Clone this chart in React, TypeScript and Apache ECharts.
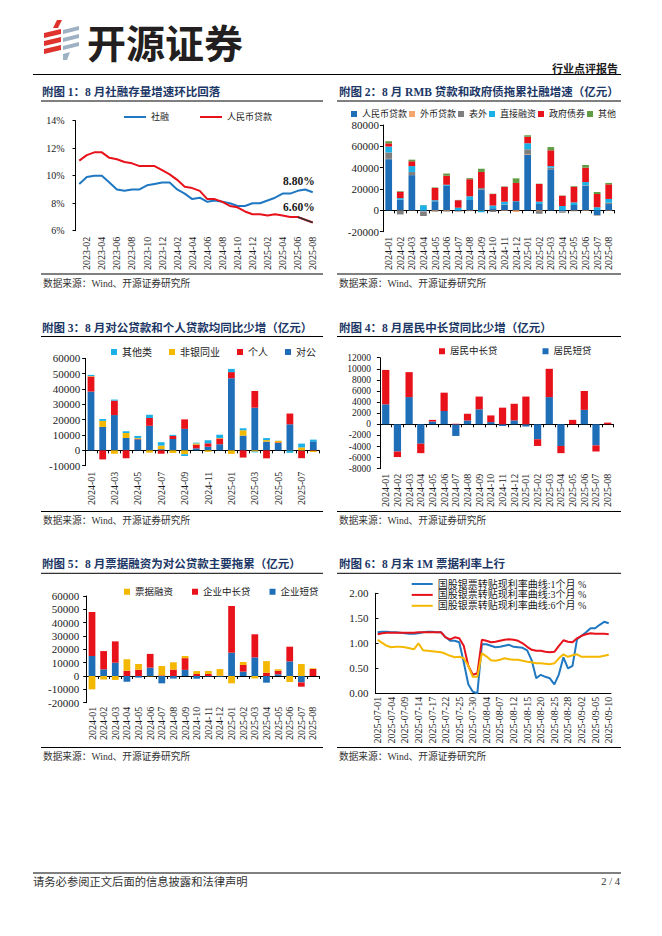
import React, { useEffect, useRef } from 'react';
import * as echarts from 'echarts';

const W = 662;
const H = 936;
const SERIF = "'Liberation Serif', 'Noto Sans CJK SC', serif";
const CJK = "'Noto Sans CJK SC', 'Liberation Serif', sans-serif";
const TXT = '#1a1a1a';
const NAVY = '#1c3766';

const BLUE = '#1f6fb8';
const LBLUE = '#1f78c1';
const RED = '#e8121b';
const CYAN = '#1bb0e6';
const GRAY = '#7f7f7f';
const ORANGE = '#f6a66b';
const GREEN = '#5f9c44';
const YELLOW = '#f5b800';

// ---------- Chart 1 ----------
const c1Months = [
  '2023-01', '2023-02', '2023-03', '2023-04', '2023-05', '2023-06', '2023-07', '2023-08',
  '2023-09', '2023-10', '2023-11', '2023-12', '2024-01', '2024-02', '2024-03', '2024-04',
  '2024-05', '2024-06', '2024-07', '2024-08', '2024-09', '2024-10', '2024-11', '2024-12',
  '2025-01', '2025-02', '2025-03', '2025-04', '2025-05', '2025-06', '2025-07', '2025-08',
];
const c1TSF = [9.4, 9.9, 10.0, 10.0, 9.5, 9.0, 8.9, 9.0, 9.0, 9.3, 9.4, 9.5, 9.5, 9.0, 8.7, 8.3,
  8.4, 8.1, 8.2, 8.1, 8.0, 7.8, 7.8, 8.0, 8.0, 8.2, 8.4, 8.7, 8.7, 8.9, 9.0, 8.8];
const c1Loan = [11.1, 11.5, 11.7, 11.7, 11.3, 11.2, 11.0, 10.9, 10.7, 10.7, 10.7, 10.4, 10.1, 9.7, 9.2, 9.1,
  8.9, 8.3, 8.3, 8.1, 7.8, 7.7, 7.4, 7.2, 7.2, 7.1, 7.2, 7.1, 7.0, 7.0, 6.8, 6.6];
const c1YTicks = [6, 8, 10, 12, 14];

// ---------- Shared months for bar charts ----------
const months20 = [
  '2024-01', '2024-02', '2024-03', '2024-04', '2024-05', '2024-06', '2024-07', '2024-08',
  '2024-09', '2024-10', '2024-11', '2024-12', '2025-01', '2025-02', '2025-03', '2025-04',
  '2025-05', '2025-06', '2025-07', '2025-08',
];

// ---------- Chart 2 ----------
const c2Loans = [48000, 10000, 33000, -1000, 8500, 23000, -800, 9700, 19500, 2000, 5300, 8500, 52000, 6000, 38500, -1000, 5000, 23000, -4300, 5900];
const c2Foreign = [300, -300, -200, -300, -800, -800, -500, -400, -300, -300, -500, -1500, 300, -700, -100, -300, -300, -500, -300, -400];
const c2OffBal = [6000, -3500, 3000, -4000, -500, -500, -300, -300, 1500, -1200, 300, 0, 5000, -2500, 1500, -1000, -500, 500, -500, 1300];
const c2Direct = [5500, 1500, 5500, 4800, 1000, 1000, 2500, 3500, -1500, 2500, 2500, 200, 5500, 2200, 1500, 4000, 2500, 3000, 3000, 3500];
const c2Gov = [3000, 6000, 4500, 0, 11500, 8500, 7000, 16000, 15000, 10800, 14000, 17000, 6200, 16500, 14800, 9700, 14600, 13500, 12400, 13700];
const c2Other = [2000, 500, 1500, 200, 500, 2000, 300, 1000, 3000, 300, 300, 4300, 1500, 300, 3000, 300, 600, 2500, 1800, 1300];

// ---------- Chart 3 ----------
const c3Corp = [38300, 15300, 23000, 8000, 7200, 16000, 800, 7400, 14000, 1300, 2400, 4000, 47000, 9600, 27800, 5700, 4800, 17000, -300, 5900];
const c3Personal = [9800, -5900, 9400, -5200, 300, 5100, -2200, 2000, 6200, 2400, 2200, 3700, 4000, -4700, 10900, -5200, 400, 7000, -4800, -300];
const c3NonBank = [300, 3900, -2200, 3300, 500, -1500, 2300, -1700, -2500, 800, -1000, 300, -2300, 3500, -800, 1000, 1000, -200, 1900, -800];
const c3Other = [800, 1200, 700, 1200, 1400, 2100, 2200, 700, -1200, 500, 2000, 2200, 2100, 1300, -500, 1300, 100, -1400, 2500, 1100];

// ---------- Chart 4 ----------
const c4Short = [3600, -4900, 4900, -3500, 500, 2400, -2100, 700, 2700, 400, -300, 700, -400, -2700, 4900, -3900, 0, 2600, -3800, 0];
const c4Long = [6200, -1000, 4500, -1700, 300, 3300, 100, 1200, 2300, 1200, 3000, 3000, 5000, -1200, 5100, -1300, 800, 3400, -1100, 300];

// ---------- Chart 5 ----------
const c5Short = [15000, 5000, 10000, -4200, -1200, 6300, -5500, -1900, 4600, -2000, -400, -500, 17500, 3300, 14000, -5000, 1300, 11000, -4800, 0];
const c5Long = [33000, 13700, 16000, 4000, 4700, 10300, 500, 4800, 8800, 1500, 1500, 200, 35000, 5000, 17300, 2500, 2600, 11000, -3200, 5300];
const c5Bill = [-10000, -2600, -2900, 8500, 4300, -300, 7000, 5500, 1600, 2200, 2300, 5000, -5500, 2200, -1800, 8700, 1200, -4500, 9000, 500];

// ---------- Chart 6 ----------
const c6Dates = [
  '2025-07-01', '2025-07-02', '2025-07-03', '2025-07-04', '2025-07-07', '2025-07-08', '2025-07-09', '2025-07-10',
  '2025-07-11', '2025-07-14', '2025-07-15', '2025-07-16', '2025-07-17', '2025-07-18', '2025-07-21', '2025-07-22',
  '2025-07-23', '2025-07-24', '2025-07-25', '2025-07-28', '2025-07-29', '2025-07-30', '2025-07-31', '2025-08-01',
  '2025-08-04', '2025-08-05', '2025-08-06', '2025-08-07', '2025-08-08', '2025-08-11', '2025-08-12', '2025-08-13',
  '2025-08-14', '2025-08-15', '2025-08-18', '2025-08-19', '2025-08-20', '2025-08-21', '2025-08-22', '2025-08-25',
  '2025-08-26', '2025-08-27', '2025-08-28', '2025-08-29', '2025-09-01', '2025-09-02', '2025-09-03', '2025-09-04',
  '2025-09-05', '2025-09-08', '2025-09-09', '2025-09-10',
];
const c6M1 = [1.22, 1.23, 1.23, 1.22, 1.22, 1.21, 1.20, 1.19, 1.19, 1.20, 1.22, 1.23, 1.23, 1.22, 1.22, 1.12,
  1.05, 1.05, 1.02, 0.62, 0.18, 0.03, 0.00, 0.98, 0.98, 0.95, 0.92, 0.93, 0.95, 0.97, 0.93, 0.92,
  0.91, 0.86, 0.66, 0.30, 0.37, 0.33, 0.30, 0.18, 0.38, 0.72, 0.50, 0.55, 1.08, 1.15, 1.22, 1.30,
  1.30, 1.37, 1.43, 1.40];
const c6M3 = [1.18, 1.20, 1.21, 1.21, 1.21, 1.21, 1.21, 1.21, 1.21, 1.22, 1.22, 1.22, 1.22, 1.22, 1.22, 1.12,
  1.08, 1.12, 1.10, 0.95, 0.55, 0.37, 0.40, 1.07, 1.05, 1.02, 1.03, 1.05, 1.07, 1.08, 1.07, 1.05,
  1.00, 0.93, 0.87, 0.85, 0.85, 0.83, 0.82, 0.83, 0.95, 1.06, 1.03, 1.02, 1.10, 1.15, 1.18, 1.20,
  1.19, 1.19, 1.19, 1.18];
const c6M6 = [1.07, 1.01, 0.95, 0.92, 0.93, 0.93, 0.92, 0.90, 0.88, 1.00, 0.86, 0.85, 0.84, 0.83, 0.82, 0.79,
  0.75, 0.72, 0.73, 0.70, 0.55, 0.33, 0.33, 0.80, 0.74, 0.66, 0.65, 0.67, 0.70, 0.68, 0.67, 0.67,
  0.65, 0.63, 0.62, 0.60, 0.60, 0.59, 0.58, 0.60, 0.70, 0.78, 0.73, 0.76, 0.78, 0.73, 0.73, 0.73,
  0.73, 0.73, 0.75, 0.77];
const c6Names = ['国股银票转贴现利率曲线:1个月 %', '国股银票转贴现利率曲线:3个月 %', '国股银票转贴现利率曲线:6个月 %'];

// ---------- helpers ----------
const plain = (v: number) => String(v);

function yAxisCfg(min: number, max: number, interval: number, fontSize: number, margin: number, formatter: any = plain, inside = false) {
  return {
    type: 'value', min, max, interval,
    axisLine: { show: true, lineStyle: { color: '#000', width: 1 } },
    axisTick: { show: true, inside, length: 3, lineStyle: { color: '#000', width: 1 } },
    splitLine: { show: false },
    axisLabel: { fontSize, margin, color: TXT, fontFamily: SERIF, formatter },
  };
}

function xAxesBar(data: string[], margin: number, interval: any, fontSize = 10) {
  return [
    {
      type: 'category', data,
      axisLine: { show: false, onZero: false },
      axisTick: { show: false },
      axisLabel: { rotate: 90, interval, fontSize, margin, color: TXT, fontFamily: SERIF },
    },
    {
      type: 'category', data, position: 'bottom',
      axisLine: { show: true, onZero: true, lineStyle: { color: '#000', width: 1 } },
      axisTick: { show: true, length: 3, interval: 0, lineStyle: { color: '#000', width: 1 } },
      axisLabel: { show: false },
    },
  ];
}

function barS(name: string, data: number[], color: string, width = '58%') {
  return { type: 'bar', name, data, stack: 'total', barWidth: width, itemStyle: { color }, xAxisIndex: 0 };
}

function sqLegend(left: number, top: number, gap: number, fontSize: number, names: string[]) {
  return {
    left, top, itemWidth: 6, itemHeight: 6, itemGap: gap, icon: 'rect', selectedMode: false,
    textStyle: { fontSize, color: TXT, fontFamily: SERIF }, data: names,
  };
}

function txt(x: number, y: number, t: string, size: number, extra: any = {}) {
  return {
    type: 'text', x, y,
    style: { text: t, fontSize: size, fontFamily: SERIF, fill: TXT, align: 'left', verticalAlign: 'middle', ...extra },
  };
}
function hline(x1: number, x2: number, y: number, w = 1) {
  return { type: 'line', shape: { x1, y1: y, x2, y2: y }, style: { stroke: '#000', lineWidth: w } };
}

// ---------- page layer ----------
const logoRed = [
  [[57, 20], [62, 20], [58, 28], [53, 28]],
  [[44, 33], [61, 29], [61, 34], [44, 38]],
  [[44, 41], [61, 37], [61, 42], [44, 46]],
  [[44, 49], [61, 45], [61, 50], [44, 54]],
];
const logoGray = [
  [[63, 30], [79, 26], [79, 30], [63, 34]],
  [[63, 38], [79, 34], [79, 38], [63, 42]],
  [[63, 46], [79, 42], [79, 46], [63, 50]],
  [[63, 54], [70, 52], [67, 60], [63, 60]],
];

const pageOption = {
  animation: false,
  graphic: [
    ...logoRed.map((p) => ({ type: 'polygon', shape: { points: p }, style: { fill: '#e0322d' } })),
    ...logoGray.map((p) => ({ type: 'polygon', shape: { points: p }, style: { fill: '#9db1c2' } })),
    txt(87, 41, '开源证券', 39, { fontFamily: CJK, fontWeight: 'bold', fill: '#231f20' }),
    txt(618, 67.5, '行业点评报告', 11, { fontFamily: CJK, fontWeight: 'bold', align: 'right' }),
    hline(33, 621, 74.5, 1),
    // titles
    txt(42, 92, '附图 1：8 月社融存量增速环比回落', 11.5, { fontWeight: 'bold', fill: NAVY }),
    txt(339, 92, '附图 2：8 月 RMB 贷款和政府债拖累社融增速（亿元）', 11.5, { fontWeight: 'bold', fill: NAVY }),
    txt(42, 327.5, '附图 3：8 月对公贷款和个人贷款均同比少增（亿元）', 11.5, { fontWeight: 'bold', fill: NAVY }),
    txt(339, 327.5, '附图 4：8 月居民中长贷同比少增（亿元）', 11.5, { fontWeight: 'bold', fill: NAVY }),
    txt(42, 564, '附图 5：8 月票据融资为对公贷款主要拖累（亿元）', 11.5, { fontWeight: 'bold', fill: NAVY }),
    txt(339, 564, '附图 6：8 月末 1M 票据利率上行', 11.5, { fontWeight: 'bold', fill: NAVY }),
    // rules
    hline(41, 323, 101), hline(337, 621, 101),
    hline(41, 323, 274), hline(337, 621, 274),
    hline(41, 323, 336.5), hline(337, 621, 336.5),
    hline(41, 323, 511.5), hline(337, 621, 511.5),
    hline(41, 323, 573.3), hline(337, 621, 573.3),
    hline(41, 323, 747.5), hline(337, 621, 747.5),
    // sources
    txt(43, 283.5, '数据来源：Wind、开源证券研究所', 9.7, { fill: '#333' }),
    txt(339, 283.5, '数据来源：Wind、开源证券研究所', 9.7, { fill: '#333' }),
    txt(43, 520, '数据来源：Wind、开源证券研究所', 9.7, { fill: '#333' }),
    txt(339, 520, '数据来源：Wind、开源证券研究所', 9.7, { fill: '#333' }),
    txt(43, 756, '数据来源：Wind、开源证券研究所', 9.7, { fill: '#333' }),
    txt(339, 756, '数据来源：Wind、开源证券研究所', 9.7, { fill: '#333' }),
    // footer
    hline(33, 621, 873, 1),
    txt(33, 881.5, '请务必参阅正文后面的信息披露和法律声明', 11.3, { fill: '#333' }),
    txt(620, 881.5, '2 / 4', 10.5, { fill: '#333', align: 'right' }),
  ],
};

// ---------- chart 1 ----------
const chart1Option = {
  animation: false,
  grid: { left: 75.5, top: 120.7, width: 241, height: 110 },
  legend: {
    left: 119, top: 107.5, itemWidth: 22, itemHeight: 2, itemGap: 31, icon: 'rect', selectedMode: false,
    textStyle: { fontSize: 9, color: TXT, fontFamily: SERIF }, data: ['社融', '人民币贷款'],
  },
  xAxis: {
    type: 'category', data: c1Months, boundaryGap: true,
    axisLine: { show: false }, axisTick: { show: false },
    axisLabel: { rotate: 90, interval: (i: number) => i % 2 === 1, fontSize: 10, margin: 6, color: TXT, fontFamily: SERIF },
  },
  yAxis: yAxisCfg(c1YTicks[0], c1YTicks[c1YTicks.length - 1], 2, 10, 11, '{value}%'),
  series: [
    { type: 'line', name: '社融', data: c1TSF, symbol: 'none', lineStyle: { color: LBLUE, width: 2 }, itemStyle: { color: LBLUE } },
    {
      type: 'line', name: '人民币贷款', data: c1Loan, symbol: 'none', lineStyle: { color: RED, width: 2 }, itemStyle: { color: RED },
      markLine: {
        silent: true, symbol: ['none', 'none'], label: { show: false },
        lineStyle: { color: '#333', width: 1.5, type: 'solid' },
        data: [[{ coord: ['2025-06', c1Loan[29]] }, { coord: ['2025-08', c1Loan[31]] }]],
      },
    },
  ],
  graphic: [
    txt(283, 180.5, '8.80%', 11.5, { fontWeight: 'bold' }),
    txt(283, 206.5, '6.60%', 11.5, { fontWeight: 'bold' }),
  ],
};

// ---------- chart 2 ----------
const chart2Option = {
  animation: false,
  grid: { left: 382.9, top: 125, width: 231.6, height: 106.7 },
  legend: sqLegend(346, 104.5, 2, 9, ['人民币贷款', '外币贷款', '表外', '直接融资', '政府债券', '其他']),
  xAxis: xAxesBar(months20, 5, 0),
  yAxis: yAxisCfg(-20000, 80000, 20000, 11, 4),
  series: [
    barS('人民币贷款', c2Loans, BLUE),
    barS('外币贷款', c2Foreign, ORANGE),
    barS('表外', c2OffBal, GRAY),
    barS('直接融资', c2Direct, CYAN),
    barS('政府债券', c2Gov, RED),
    barS('其他', c2Other, GREEN),
  ],
};

// ---------- chart 3 ----------
const chart3Option = {
  animation: false,
  grid: { left: 85.15, top: 358.3, width: 234, height: 107.4 },
  legend: sqLegend(106, 342, 17, 10, ['其他类', '非银同业', '个人', '对公']),
  xAxis: xAxesBar(months20, 6, (i: number) => i % 2 === 0),
  yAxis: yAxisCfg(-10000, 60000, 10000, 11, 5),
  series: [
    barS('对公', c3Corp, BLUE),
    barS('个人', c3Personal, RED),
    barS('非银同业', c3NonBank, YELLOW),
    barS('其他类', c3Other, CYAN),
  ],
};

// ---------- chart 4 ----------
const chart4Option = {
  animation: false,
  grid: { left: 379.9, top: 357.7, width: 233.6, height: 111 },
  legend: sqLegend(434, 341.5, 45, 9.5, ['居民中长贷', '居民短贷']),
  xAxis: xAxesBar(months20, 5, 0),
  yAxis: yAxisCfg(-8000, 12000, 2000, 9.5, 9),
  series: [
    barS('居民短贷', c4Short, BLUE, '62%'),
    barS('居民中长贷', c4Long, RED, '62%'),
  ],
};

// ---------- chart 5 ----------
const chart5Option = {
  animation: false,
  grid: { left: 86.2, top: 596, width: 232.6, height: 106.7 },
  legend: sqLegend(119, 582, 19, 9.5, ['票据融资', '企业中长贷', '企业短贷']),
  xAxis: xAxesBar(months20, 4, 0),
  yAxis: yAxisCfg(-20000, 60000, 10000, 11, 7),
  series: [
    barS('企业短贷', c5Short, BLUE),
    barS('企业中长贷', c5Long, RED),
    barS('票据融资', c5Bill, YELLOW),
  ],
};

// ---------- chart 6 ----------
const chart6Option = {
  animation: false,
  grid: { left: 375.4, top: 593.3, width: 235.6, height: 100 },
  legend: {
    orient: 'vertical', left: 406.7, top: 574, itemWidth: 21, itemHeight: 2, itemGap: 0.9, icon: 'rect', selectedMode: false,
    textStyle: { fontSize: 10, lineHeight: 10, color: TXT, fontFamily: SERIF }, data: c6Names,
  },
  xAxis: {
    type: 'category', data: c6Dates, boundaryGap: true,
    axisLine: { show: true, lineStyle: { color: '#000', width: 1 } }, axisTick: { show: false },
    axisLabel: { rotate: 90, interval: (i: number) => i % 3 === 0, fontSize: 10, margin: 3.5, color: TXT, fontFamily: SERIF },
  },
  yAxis: yAxisCfg(0, 2, 0.5, 11, 7, (v: number) => v.toFixed(2), true),
  series: [
    { type: 'line', name: c6Names[0], data: c6M1, symbol: 'none', lineStyle: { color: LBLUE, width: 2 }, itemStyle: { color: LBLUE } },
    { type: 'line', name: c6Names[1], data: c6M3, symbol: 'none', lineStyle: { color: RED, width: 2 }, itemStyle: { color: RED } },
    { type: 'line', name: c6Names[2], data: c6M6, symbol: 'none', lineStyle: { color: YELLOW, width: 2 }, itemStyle: { color: YELLOW } },
  ],
};

function Layer({ option }: { option: any }) {
  const ref = useRef<HTMLDivElement>(null);
  useEffect(() => {
    if (!ref.current) return;
    const chart = echarts.init(ref.current, null, { renderer: 'svg', width: W, height: H });
    chart.setOption(option);
    return () => chart.dispose();
  }, [option]);
  return (
    <div
      ref={ref}
      style={{ position: 'absolute', left: 0, top: 0, width: W, height: H, pointerEvents: 'none' }}
    />
  );
}

export default function App() {
  return (
    <div style={{ position: 'absolute', left: 0, top: 0, width: W, height: H, background: '#fff', overflow: 'hidden' }}>
      <Layer option={pageOption} />
      <Layer option={chart1Option} />
      <Layer option={chart2Option} />
      <Layer option={chart3Option} />
      <Layer option={chart4Option} />
      <Layer option={chart5Option} />
      <Layer option={chart6Option} />
    </div>
  );
}
